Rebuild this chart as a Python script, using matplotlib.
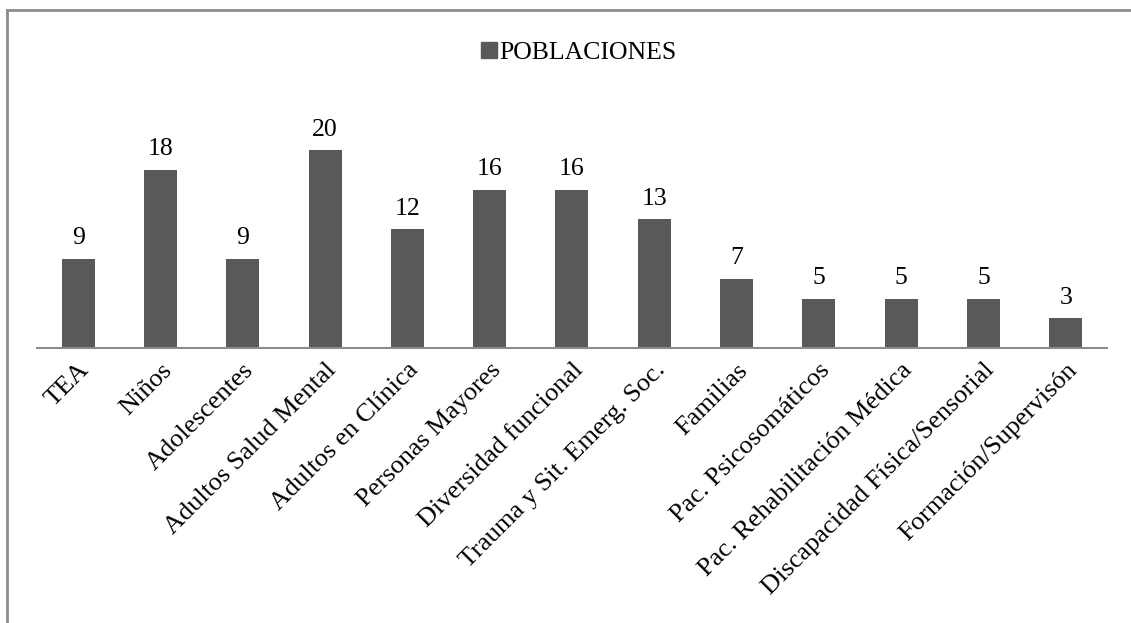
import matplotlib.pyplot as plt
import numpy as np
from matplotlib.lines import Line2D
from matplotlib.patches import Patch

# Datos del grafico
categorias = ["TEA", "Niños", "Adolescentes", "Adultos Salud Mental",
              "Adultos en Clínica", "Personas Mayores", "Diversidad funcional",
              "Trauma y Sit. Emerg. Soc.", "Familias", "Pac. Psicosomáticos",
              "Pac. Rehabilitación Médica", "Discapacidad Física/Sensorial",
              "Formación/Supervisón"]
valores = [9, 18, 9, 20, 12, 16, 16, 13, 7, 5, 5, 5, 3]
serie = "POBLACIONES"

plt.rcParams['font.family'] = ['Liberation Serif', 'DejaVu Serif']

color_barra = '#595959'
color_linea = '#8c8c8c'

fig = plt.figure(figsize=(11.31, 6.23), dpi=100)
ax = fig.add_axes([0.0327, 0.4414, 0.946, 0.40])

x = np.arange(len(categorias))
barras = ax.bar(x, valores, width=0.4, color=color_barra)
ax.bar_label(barras, padding=7, fontsize=18.5)

ax.set_xlim(-0.5, len(categorias) - 0.5)
ax.set_ylim(0, 25.2)
ax.set_xticks(x)
ax.set_xticklabels(categorias, rotation=45, ha='right', rotation_mode='anchor',
                   fontsize=19)
ax.tick_params(axis='x', length=0, pad=8)
ax.set_yticks([])
for lado in ['top', 'right', 'left']:
    ax.spines[lado].set_visible(False)
ax.spines['bottom'].set_color(color_linea)
ax.spines['bottom'].set_linewidth(1.5)

# Leyenda arriba
fig.legend(handles=[Patch(color=color_barra, label=serie)], loc='center',
           bbox_to_anchor=(0.512, 0.915), frameon=False, fontsize=18.5,
           handlelength=0.6, handleheight=0.6, handletextpad=0.1)

# Borde del grafico (solo izquierda y arriba visibles)
fig.add_artist(Line2D([7 / 1131, 7 / 1131], [0, 1 - 10 / 623], color=color_linea, lw=2))
fig.add_artist(Line2D([7 / 1131, 1], [1 - 10 / 623, 1 - 10 / 623], color=color_linea, lw=2))

fig.savefig('out.png', dpi=100)
